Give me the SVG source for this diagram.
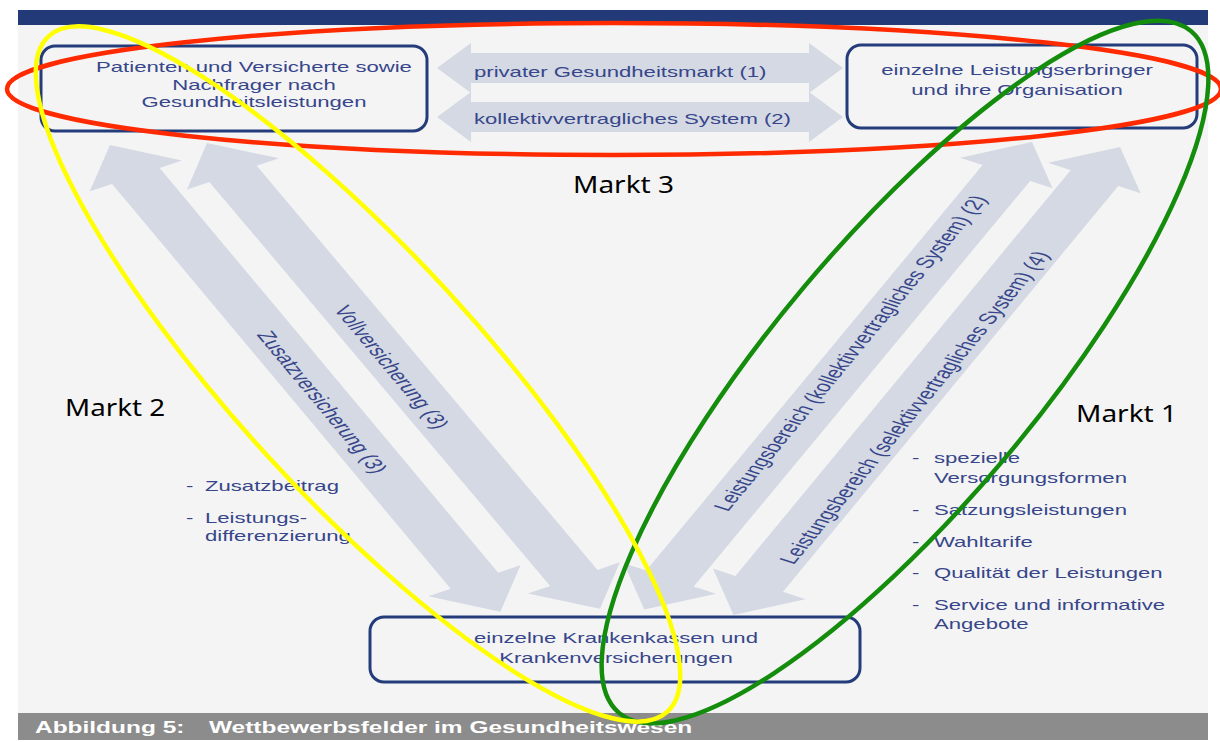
<svg xmlns="http://www.w3.org/2000/svg" xmlns:xlink="http://www.w3.org/1999/xlink" width="1220" height="742" viewBox="0 0 1220 742">
<style>
.panel{fill:#f4f4f4}
.topbar{fill:#223a78}
.capbar{fill:#8c8c8c}
.arrow{fill:#d4d9e3}
.box{fill:none;stroke:#243c7a;stroke-width:3}
.t{font-family:"Liberation Sans",Arial,sans-serif;font-size:14px;fill:#37468a}
.r{font-family:"Liberation Sans",Arial,sans-serif;font-size:15.5px;fill:#37468a}
.m{font-family:"Noto Sans","Open Sans",sans-serif;font-size:24px;fill:#000}
.cap{font-family:"Liberation Sans",Arial,sans-serif;font-weight:bold;font-size:16px;fill:#fff}
.ell{fill:none;stroke-width:4.5}
</style>
<defs>
<path id="darr" d="M0,0 L35,-33 L35,-17 L493,-17 L493,-33 L528,0 L493,33 L493,17 L35,17 L35,33 Z"/>
<path id="harr" d="M0,0 L34,-25 L34,-15 L372,-15 L372,-25 L406,0 L372,25 L372,15 L34,15 L34,25 Z"/>
</defs>
<rect width="1220" height="742" fill="#ffffff"/>
<rect class="panel" x="18" y="10" width="1190" height="730"/>
<rect class="topbar" x="18" y="10" width="1190" height="15"/>
<rect class="capbar" x="18" y="713" width="1190" height="27"/>
<g id="caption" transform="translate(35,0) scale(1.53,1)">
<text class="cap" x="0" y="733">Abbildung 5:</text>
<text class="cap" x="113.7" y="733">Wettbewerbsfelder im Gesundheitswesen</text>
</g>

<g id="connectors">
<use xlink:href="#harr" href="#harr" class="arrow" transform="translate(437,68)"/>
<use xlink:href="#harr" href="#harr" class="arrow" transform="translate(437,117)"/>
<g transform="translate(474,0) scale(1.58,1)">
<text class="t" x="0" y="77">privater Gesundheitsmarkt (1)</text>
<text class="t" x="0" y="124">kollektivvertragliches System (2)</text>
</g>
<g transform="scale(1.58,1)">
<use xlink:href="#darr" href="#darr" class="arrow" transform="translate(69.6,145) rotate(62.1)"/>
<use xlink:href="#darr" href="#darr" class="arrow" transform="translate(131,143) rotate(61.9)"/>
<use xlink:href="#darr" href="#darr" class="arrow" transform="translate(653.2,142) rotate(117.7)"/>
<use xlink:href="#darr" href="#darr" class="arrow" transform="translate(708.9,147) rotate(117.6)"/>
<text class="r" text-anchor="middle" dy="0.35em" transform="translate(248,367) rotate(61.9)">Vollversicherung (3)</text>
<text class="r" text-anchor="middle" dy="0.35em" transform="translate(204,402) rotate(62.1)">Zusatzversicherung (3)</text>
<text class="r" text-anchor="middle" dy="0.35em" transform="translate(538,353) rotate(-62.3)">Leistungsbereich (kollektivvertragliches System) (2)</text>
<text class="r" text-anchor="middle" dy="0.35em" transform="translate(578.6,407.5) rotate(-62.4)">Leistungsbereich (selektivvertragliches System) (4)</text>
</g>
</g>

<g id="node-patienten">
<rect class="box" x="41" y="46" width="386" height="85" rx="14"/>
<g transform="translate(254,0) scale(1.58,1)">
<text class="t" x="0" y="72" text-anchor="middle">Patienten und Versicherte sowie</text>
<text class="t" x="0" y="90" text-anchor="middle">Nachfrager nach</text>
<text class="t" x="0" y="107" text-anchor="middle">Gesundheitsleistungen</text>
</g>
</g>

<g id="node-leistungserbringer">
<rect class="box" x="847" y="45" width="350" height="83" rx="14"/>
<g transform="translate(1017,0) scale(1.58,1)">
<text class="t" x="0" y="75" text-anchor="middle">einzelne Leistungserbringer</text>
<text class="t" x="0" y="95" text-anchor="middle">und ihre Organisation</text>
</g>
</g>

<g id="node-krankenkassen">
<rect class="box" x="370" y="617" width="490" height="65" rx="14"/>
<g transform="translate(616,0) scale(1.58,1)">
<text class="t" x="0" y="643" text-anchor="middle">einzelne Krankenkassen und</text>
<text class="t" x="0" y="663" text-anchor="middle">Krankenversicherungen</text>
</g>
</g>

<g id="list-markt2" transform="translate(205,0) scale(1.58,1)">
<text class="t" x="-12" y="491">-</text>
<text class="t" x="0" y="491">Zusatzbeitrag</text>
<text class="t" x="-12" y="523">-</text>
<text class="t" x="0" y="523">Leistungs-</text>
<text class="t" x="0" y="541">differenzierung</text>
</g>

<g id="list-markt1" transform="translate(934,0) scale(1.58,1)">
<text class="t" x="-14" y="463">-</text>
<text class="t" x="0" y="463">spezielle</text>
<text class="t" x="0" y="483">Versorgungsformen</text>
<text class="t" x="-14" y="515">-</text>
<text class="t" x="0" y="515">Satzungsleistungen</text>
<text class="t" x="-14" y="547">-</text>
<text class="t" x="0" y="547">Wahltarife</text>
<text class="t" x="-14" y="578">-</text>
<text class="t" x="0" y="578">Qualität der Leistungen</text>
<text class="t" x="-14" y="610">-</text>
<text class="t" x="0" y="610">Service und informative</text>
<text class="t" x="0" y="629">Angebote</text>
</g>

<g id="markt-labels">
<text class="m" x="573" y="193" textLength="101" lengthAdjust="spacingAndGlyphs">Markt 3</text>
<text class="m" x="65" y="416" textLength="100" lengthAdjust="spacingAndGlyphs">Markt 2</text>
<text class="m" x="1076" y="422" textLength="101" lengthAdjust="spacingAndGlyphs">Markt 1</text>
</g>

<g id="markt-ovals">
<ellipse class="ell" cx="614" cy="89" rx="607" ry="66" stroke="#ff2a00"/>
<ellipse class="ell" cx="905" cy="372" rx="445" ry="132" transform="rotate(-50 905 372)" stroke="#148c0c"/>
<ellipse class="ell" cx="358" cy="374" rx="458" ry="122" transform="rotate(47.5 358 374)" stroke="#ffff00"/>
</g>
</svg>
